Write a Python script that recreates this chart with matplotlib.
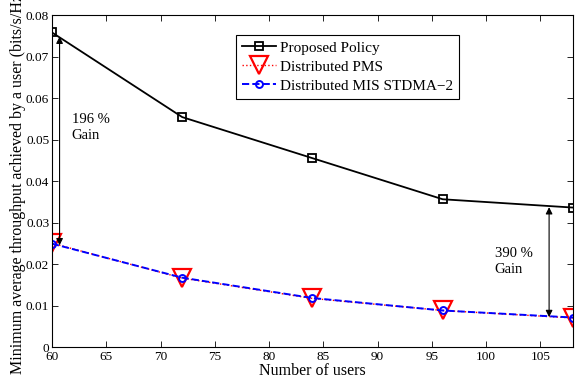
import numpy as np
import matplotlib
matplotlib.use('Agg')
import matplotlib.pyplot as plt

plt.rcParams['font.family'] = ['Liberation Serif', 'DejaVu Serif']
plt.rcParams['mathtext.fontset'] = 'stix'

users = [60, 72, 84, 96, 108]
proposed = [0.0758, 0.0554, 0.0455, 0.0356, 0.0336]
pms = [0.0250, 0.0166, 0.0117, 0.0088, 0.0070]
mis = [0.0249, 0.0167, 0.0118, 0.0088, 0.0071]

gain1_x, gain1_y = 60.7, (0.0748, 0.0245)
gain2_x, gain2_y = 105.8, (0.0337, 0.0072)

fig = plt.figure(figsize=(5.82, 3.85), dpi=100)
ax = fig.add_axes([0.0893, 0.0987, 0.8952, 0.8623])

ax.plot(users, proposed, 'k-s', lw=1.3, ms=6, mfc='none', mew=1.3, label='Proposed Policy')
ax.plot(users, pms, 'r:v', lw=1.0, ms=12.5, mfc='none', mew=1.6, label='Distributed PMS')
ax.plot(users, mis, 'b--o', lw=1.4, ms=5, mfc='none', mew=1.4, label='Distributed MIS STDMA\u22122')

for gx, (ytop, ybot) in [(gain1_x, gain1_y), (gain2_x, gain2_y)]:
    ax.annotate('', xy=(gx, ytop), xytext=(gx, ybot),
                arrowprops=dict(arrowstyle='<|-|>', color='k', lw=0.8,
                                mutation_scale=10, shrinkA=0, shrinkB=0))

ax.text(61.8, 0.053, '196 %\nGain', fontsize=10.5, ha='left', va='center', linespacing=1.3)
ax.text(100.8, 0.0205, '390 %\nGain', fontsize=10.5, ha='left', va='center', linespacing=1.3)

ax.set_xlim(60, 108)
ax.set_ylim(0, 0.08)
ax.set_xticks(np.arange(60, 106, 5))
ax.set_yticks(np.arange(0, 0.081, 0.01))
ax.set_yticklabels(['0', '0.01', '0.02', '0.03', '0.04', '0.05', '0.06', '0.07', '0.08'])
ax.tick_params(direction='in', top=True, right=True, labelsize=9.5, length=4, width=0.6, pad=2)
ax.tick_params(axis='x', pad=3)
for s in ax.spines.values():
    s.set_linewidth(0.8)

ax.set_xlabel('Number of users', fontsize=11.5, labelpad=0)
ax.set_ylabel('Minimum average throughput achieved by a user (bits/s/Hz)', fontsize=11.5, labelpad=0)

leg = ax.legend(loc='upper left', bbox_to_anchor=(0.353, 0.94), fontsize=11, frameon=True,
                fancybox=False, edgecolor='k', framealpha=1, handlelength=2.2,
                borderpad=0.4, labelspacing=0.35, handletextpad=0.3, borderaxespad=0)
leg.get_frame().set_linewidth(0.8)

fig.savefig('out.png', dpi=100)
